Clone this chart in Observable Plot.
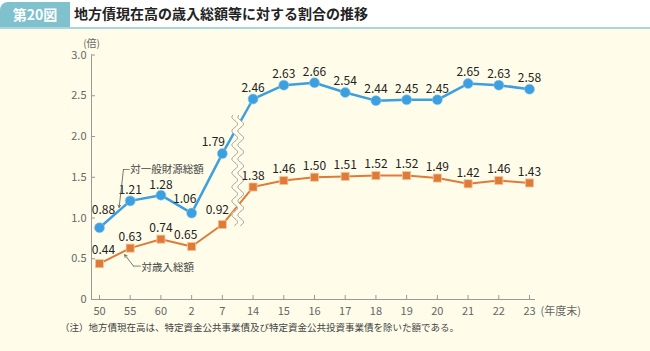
<!DOCTYPE html>
<html><head><meta charset="utf-8">
<script src="https://cdn.jsdelivr.net/npm/d3@7"></script>
<script src="https://cdn.jsdelivr.net/npm/@observablehq/plot@0.6"></script>
<style>
body{margin:0;background:#fffde9;font-family:"Noto Sans CJK JP","Noto Sans",sans-serif;width:650px;height:351px;overflow:hidden;position:relative}
#hdr{position:absolute;left:0;top:0;width:650px;height:27px;background:#fff;border-bottom:2px solid #a9d6de}
#tab{position:absolute;left:0;top:2px;width:70px;height:25px;background:#7fc1cd;border-top-left-radius:8px;color:#fff;font-weight:bold;font-size:14px;line-height:25px;text-align:center}
#ttl{position:absolute;left:74px;top:0;height:27px;line-height:27px;font-size:14px;font-weight:bold;color:#222}
#chart{position:absolute;left:0;top:30px}
#note{position:absolute;left:60px;top:320px;font-size:9.5px;color:#444}
</style></head>
<body>
<div id="hdr"></div>
<div id="tab">第20図</div>
<div id="ttl">地方債現在高の歳入総額等に対する割合の推移</div>
<div id="chart"></div>
<div id="note">（注）地方債現在高は、特定資金公共事業債及び特定資金公共投資事業債を除いた額である。</div>
<script>
const years = ["50","55","60","2","7","14","15","16","17","18","19","20","21","22","23"];
const generalRatio = [0.88,1.21,1.28,1.06,1.79,2.46,2.63,2.66,2.54,2.44,2.45,2.45,2.65,2.63,2.58];
const revenueRatio = [0.44,0.63,0.74,0.65,0.92,1.38,1.46,1.50,1.51,1.52,1.52,1.49,1.42,1.46,1.43];
const yTicks = [0,0.5,1.0,1.5,2.0,2.5,3.0];
const seriesNames = ["対一般財源総額","対歳入総額"];

const blue = "#3c9fe0", orange = "#df7b37";
const step = 30.714, yUnit = 81.5;
const xMin = -0.26, xMax = 14.195;
const gen = years.map((y,i)=>({i, v: generalRatio[i]}));
const rev = years.map((y,i)=>({i, v: revenueRatio[i]}));

// break symbol (decorative wave between 7 and 14)
const wave = d3.range(0, 111, 1).map(p => ({p, y: 0.908 + p / yUnit, w: 2.8*Math.sin(p/14*2*Math.PI)}));
const bx = 4.5;

const sp = (idx) => (d) => idx.includes(d.i);
const normal = (idx) => (d) => !idx.includes(d.i);

const txt = {fontSize: 12, fill: "#222", fontFamily: "Noto Sans CJK JP"};

const plot = Plot.plot({
  width: 650, height: 290,
  marginLeft: 91, marginRight: 115, marginTop: 24.5, marginBottom: 21,
  style: {background: "transparent", fontFamily: "Noto Sans CJK JP"},
  x: {type: "linear", domain: [xMin, xMax], axis: null},
  y: {domain: [0, 3], axis: null},
  marks: [
    Plot.ruleY([0], {stroke: "#999", strokeWidth: 1}),
    Plot.ruleX([xMin], {stroke: "#999", strokeWidth: 1}),
    Plot.ruleY(yTicks.slice(1), {y: d => d, x1: xMin, x2: xMin + 4/step, stroke: "#999"}),
    Plot.ruleX(d3.range(years.length), {x: d => d, y1: 0, y2: 4/yUnit, stroke: "#999"}),
    Plot.text(yTicks, {x: xMin, y: d => d, text: d => d === 0 ? "0" : d.toFixed(1), textAnchor: "end", dx: -5, fontSize: 11, fill: "#666"}),
    Plot.text(years, {x: (d,i) => i, y: 0, text: d => d, dy: 12, fontSize: 11, fill: "#666"}),
    Plot.text(["(年度末)"], {x: 14, y: 0, text: d => d, textAnchor: "start", dy: 12, dx: 11, fontSize: 11, fill: "#666"}),
    Plot.text(["(倍)"], {x: xMin, y: 3, text: d => d, dy: -11, fontSize: 10, fill: "#666"}),

    Plot.line(gen, {x: "i", y: "v", stroke: blue, strokeWidth: 2.5}),
    Plot.line(rev, {x: "i", y: "v", stroke: orange, strokeWidth: 2}),

    // break mask and wave
    Plot.areaX(wave, {y: "y", x1: d => bx + (d.w - 3)/step, x2: d => bx + (d.w + 3)/step, fill: "#fffde9"}),
    Plot.line(wave, {x: d => bx + (d.w - 3)/step, y: "y", stroke: "#999", strokeWidth: 1}),
    Plot.line(wave, {x: d => bx + (d.w + 3)/step, y: "y", stroke: "#999", strokeWidth: 1}),

    Plot.dot(gen, {x: "i", y: "v", r: 5, fill: blue, stroke: "#8cc8ee", strokeWidth: 0.6}),
    Plot.dot(rev, {x: "i", y: "v", symbol: "square", r: 4.6, fill: orange, stroke: "#f3c9a6", strokeWidth: 0.8}),

    // value labels
    Plot.text(gen.filter(normal([0,2,3,4])), {x: "i", y: "v", text: d => d.v.toFixed(2), dy: -11, ...txt}),
    Plot.text(gen.filter(sp([2])), {x: "i", y: "v", text: d => d.v.toFixed(2), dy: -10, ...txt}),
    Plot.text(gen.filter(sp([0])), {x: "i", y: "v", text: d => d.v.toFixed(2), dy: -18, dx: 4, ...txt}),
    Plot.text(gen.filter(sp([3])), {x: "i", y: "v", text: d => d.v.toFixed(2), dy: -14, dx: -7, ...txt}),
    Plot.text(gen.filter(sp([4])), {x: "i", y: "v", text: d => d.v.toFixed(2), dy: -11, dx: -9, ...txt}),
    Plot.text(rev.filter(normal([0,3,4])), {x: "i", y: "v", text: d => d.v.toFixed(2), dy: -11, ...txt}),
    Plot.text(rev.filter(sp([0])), {x: "i", y: "v", text: d => d.v.toFixed(2), dy: -13, dx: 4, ...txt}),
    Plot.text(rev.filter(sp([3])), {x: "i", y: "v", text: d => d.v.toFixed(2), dy: -11, dx: -6, ...txt}),
    Plot.text(rev.filter(sp([4])), {x: "i", y: "v", text: d => d.v.toFixed(2), dy: -14, dx: -5, ...txt}),

    // series annotations with leaders
    Plot.text([seriesNames[0]], {x: 1.0, y: 1.595, text: d => d, textAnchor: "start", fontSize: 10.5, fill: "#444"}),
    Plot.line([{x: 0.97, y: 1.595}, {x: 0.78, y: 1.595}], {x: "x", y: "y", stroke: "#666", strokeWidth: 0.8}),
    Plot.arrow([{x1: 0.78, y1: 1.595, x2: 0.64, y2: 1.13}], {x1: "x1", y1: "y1", x2: "x2", y2: "y2", stroke: "#555", strokeWidth: 0.8, headLength: 5, bend: 0}),
    Plot.text([seriesNames[1]], {x: 1.368, y: 0.393, text: d => d, textAnchor: "start", fontSize: 10.5, fill: "#444"}),
    Plot.line([{x: 1.33, y: 0.41}, {x: 1.107, y: 0.41}], {x: "x", y: "y", stroke: "#666", strokeWidth: 0.8}),
    Plot.arrow([{x1: 1.107, y1: 0.41, x2: 0.82, y2: 0.55}], {x1: "x1", y1: "y1", x2: "x2", y2: "y2", stroke: "#555", strokeWidth: 0.8, headLength: 5, bend: 0})
  ]
});
document.getElementById("chart").appendChild(plot);
</script>
</body></html>
